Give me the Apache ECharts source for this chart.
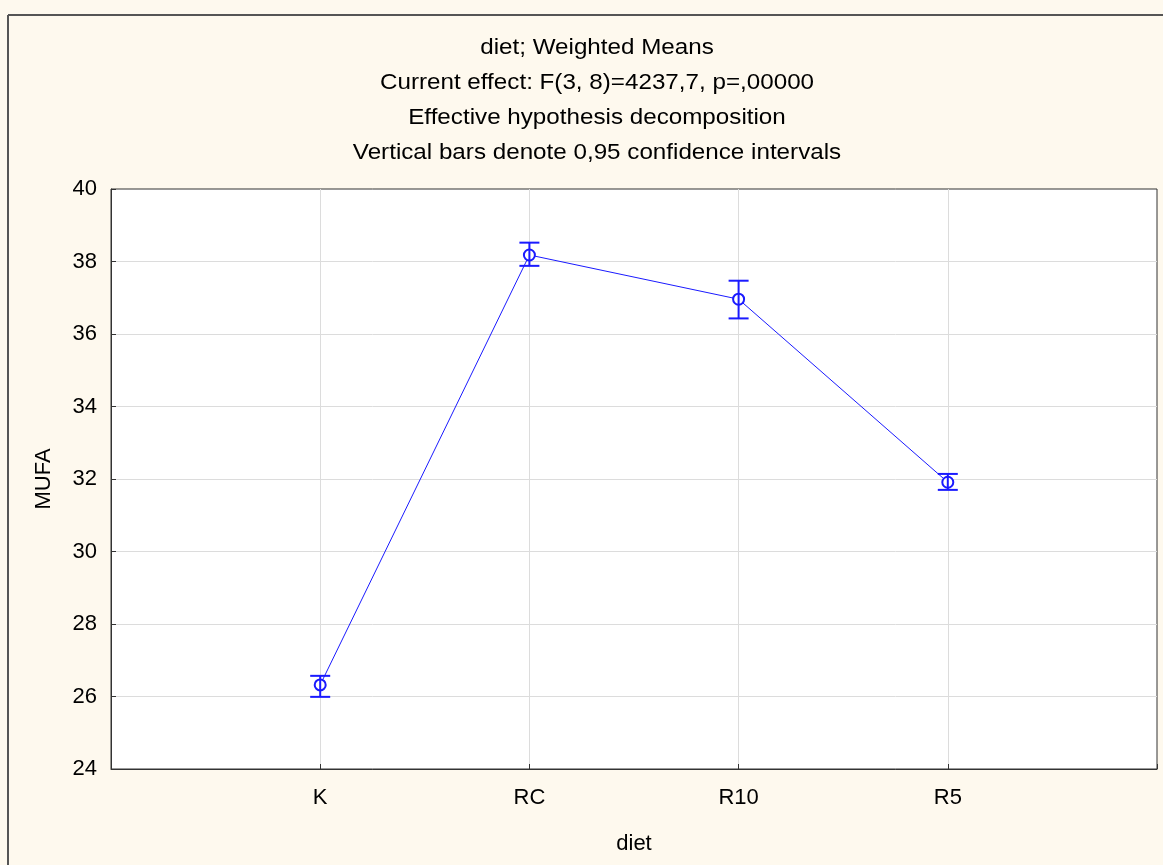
<!DOCTYPE html>
<html>
<head>
<meta charset="utf-8">
<script src="https://cdn.jsdelivr.net/npm/echarts@6/dist/echarts.min.js"></script>
<style>
  html, body { margin: 0; padding: 0; background: #ffffff; }
  #chart { width: 1163px; height: 865px; }
</style>
</head>
<body>
<div id="chart"></div>
<script>
// Diet groups along the horizontal axis
const categories = ['K', 'RC', 'R10', 'R5'];
// Weighted means of MUFA per diet
const means = [26.32, 38.18, 36.96, 31.91];
// 0,95 confidence interval bounds
const lower = [25.99, 37.88, 36.43, 31.70];
const upper = [26.57, 38.52, 37.47, 32.14];
// Value-axis ticks
const yMin = 24, yMax = 40, yStep = 2;

const titleLines = [
  'diet; Weighted Means',
  'Current effect: F(3, 8)=4237,7, p=,00000',
  'Effective hypothesis decomposition',
  'Vertical bars denote 0,95 confidence intervals'
];

const blue = '#1a1aff';
const FONT = 'Liberation Sans, Arial, sans-serif';

// Categories sit at positions 1..n on a numeric axis spanning 0..n+1
const linePts = means.map((m, i) => [i + 1, m]);
const errPts = means.map((m, i) => [i + 1, lower[i], upper[i]]);

const chart = echarts.init(document.getElementById('chart'), null, { renderer: 'canvas' });

const titleGraphics = titleLines.map((t, i) => ({
  type: 'text',
  x: 597,
  y: 48 + i * 35,
  scaleX: 1.1,
  style: {
    text: t,
    fill: '#000',
    font: '22px ' + FONT,
    textAlign: 'center',
    textVerticalAlign: 'middle'
  }
}));

chart.setOption({
  backgroundColor: '#fef9ee',
  animation: false,
  graphic: [
    // outer frame edges
    { type: 'line', shape: { x1: 8, y1: 15, x2: 1163, y2: 15 }, style: { stroke: '#555', lineWidth: 2 } },
    { type: 'line', shape: { x1: 8, y1: 15, x2: 8, y2: 865 }, style: { stroke: '#555', lineWidth: 2 } },
    ...titleGraphics
  ],
  grid: { left: 111, top: 189, right: 6, bottom: 96, show: true, backgroundColor: '#ffffff', borderColor: '#333', borderWidth: 1 },
  xAxis: {
    type: 'value',
    min: 0,
    max: categories.length + 1,
    interval: 1,
    name: 'diet',
    nameLocation: 'middle',
    nameGap: 64,
    nameTextStyle: { color: '#000', fontSize: 22, fontFamily: FONT },
    axisLine: { show: true, lineStyle: { color: '#333' } },
    axisTick: { show: true, inside: true, length: 5, lineStyle: { color: '#333' } },
    axisLabel: {
      color: '#000', fontSize: 22, fontFamily: FONT, margin: 18,
      formatter: v => (v >= 1 && v <= categories.length ? categories[v - 1] : '')
    },
    splitLine: { show: true, showMinLine: false, showMaxLine: false, lineStyle: { color: '#dcdcdc', width: 1 } }
  },
  yAxis: {
    type: 'value',
    min: yMin,
    max: yMax,
    interval: yStep,
    name: 'MUFA',
    nameLocation: 'middle',
    nameGap: 56,
    nameRotate: 90,
    nameTextStyle: { color: '#000', fontSize: 22, fontFamily: FONT },
    axisLine: { show: true, lineStyle: { color: '#333' } },
    axisTick: { show: true, inside: true, length: 5, lineStyle: { color: '#333' } },
    axisLabel: { color: '#000', fontSize: 22, fontFamily: FONT, margin: 14 },
    splitLine: { show: true, showMinLine: false, showMaxLine: false, lineStyle: { color: '#dcdcdc', width: 1 } }
  },
  series: [
    {
      type: 'line',
      data: linePts,
      symbol: 'emptyCircle',
      symbolSize: 11,
      lineStyle: { color: blue, width: 1 },
      itemStyle: { color: blue, borderColor: blue, borderWidth: 1 },
      z: 3
    },
    {
      type: 'custom',
      data: errPts,
      renderItem: (params, api) => {
        const x = api.value(0);
        const lo = api.coord([x, api.value(1)]);
        const hi = api.coord([x, api.value(2)]);
        const half = 10;
        const st = { stroke: blue, lineWidth: 2 };
        return {
          type: 'group',
          children: [
            { type: 'line', shape: { x1: lo[0], y1: lo[1], x2: hi[0], y2: hi[1] }, style: st },
            { type: 'line', shape: { x1: hi[0] - half, y1: hi[1], x2: hi[0] + half, y2: hi[1] }, style: st },
            { type: 'line', shape: { x1: lo[0] - half, y1: lo[1], x2: lo[0] + half, y2: lo[1] }, style: st }
          ]
        };
      },
      z: 4
    }
  ]
});
</script>
</body>
</html>
